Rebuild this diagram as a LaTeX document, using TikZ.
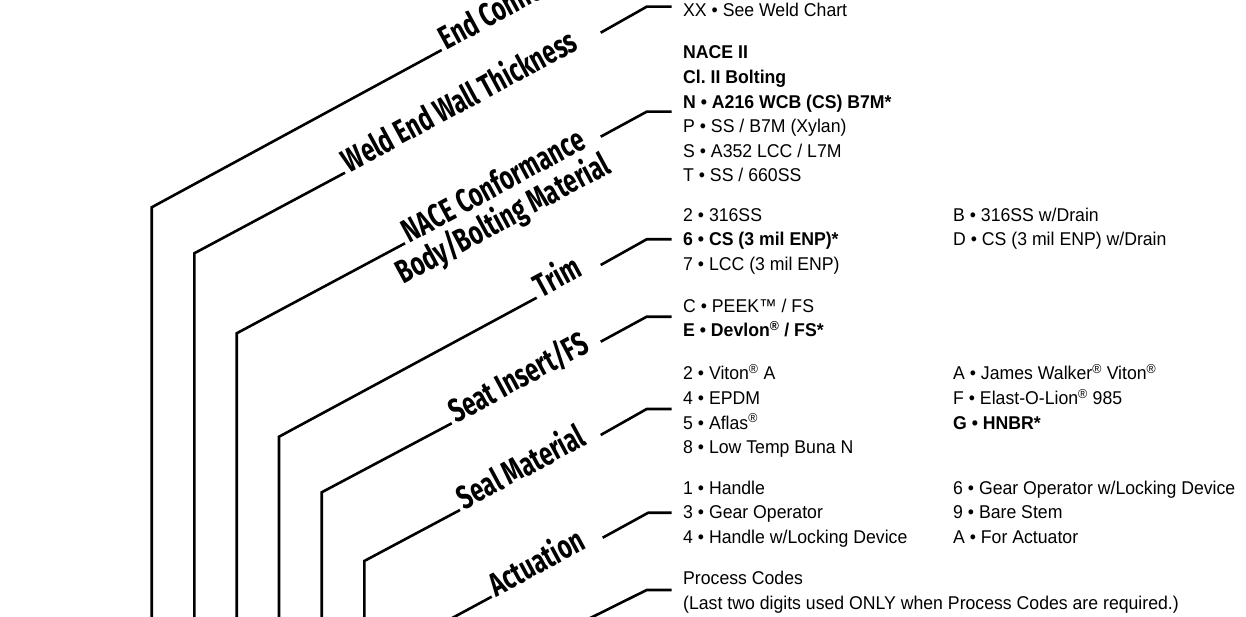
\documentclass[tikz,border=0pt]{standalone}
\usepackage{fontspec}
\setmainfont[FakeStretch=0.955]{Liberation Sans}
\newfontfamily\labfont[FakeStretch=0.71]{Fira Sans}
\frenchspacing
\begin{document}
\begin{tikzpicture}[x=1pt,y=-1pt,
  conn/.style={line width=2.6pt, line join=miter, line cap=butt},
  lab/.style={font=\labfont\bfseries\fontsize{33}{33}\selectfont, rotate=28.4, anchor=mid west, inner xsep=4pt, inner ysep=0pt},
  opt/.style={font=\fontsize{18.5}{24.6}\selectfont, anchor=west, inner sep=0pt, align=left}]
\useasboundingbox (0,0) rectangle (1246,617);
\clip (0,0) rectangle (1246,617);

% option blocks
\node[opt] (o1) at (683,10) {XX • See Weld Chart};
\node[opt] (o2) at (683,114) {\textbf{NACE II}\\ \textbf{Cl. II Bolting}\\ \textbf{N • A216 WCB (CS) B7M*}\\ P • SS / B7M (Xylan)\\ S • A352 LCC / L7M\\ T • SS / 660SS};
\node[opt] (o3) at (683,241) {\makebox[270pt][l]{2 • 316SS}B • 316SS w/Drain\\ \makebox[270pt][l]{\textbf{6 • CS (3 mil ENP)*}}D • CS (3 mil ENP) w/Drain\\ 7 • LCC (3 mil ENP)};
\node[opt] (o4) at (683,318) {C • PEEK™ / FS\\ \textbf{E • Devlon\textsuperscript{®} / FS*}};
\node[opt] (o5) at (683,411) {\makebox[270pt][l]{2 • Viton\textsuperscript{®} A}A • James Walker\textsuperscript{®} Viton\textsuperscript{®}\\ \makebox[270pt][l]{4 • EPDM}F • Elast-O-Lion\textsuperscript{®} 985\\ \makebox[270pt][l]{5 • Aflas\textsuperscript{®}}\textbf{G • HNBR*}\\ 8 • Low Temp Buna N};
\node[opt] (o6) at (683,514) {\makebox[270pt][l]{1 • Handle}6 • Gear Operator w/Locking Device\\ \makebox[270pt][l]{3 • Gear Operator}9 • Bare Stem\\ \makebox[270pt][l]{4 • Handle w/Locking Device}A • For Actuator};
\node[opt] (o7) at (683,592) {Process Codes\\ (Last two digits used ONLY when Process Codes are required.)};

% rotated labels
\node[lab] (l1) at (441.7,50) {End Connection};
\node[lab] (l2) at (345,172.7) {Weld End Wall Thickness};
\node[lab] (l3) at (405,243.3) {NACE Conformance};
\node[lab] (l3b) at (398.5,284.5) {Body/Bolting Material};
\node[lab] (l4) at (536.7,297.7) {Trim};
\node[lab] (l5) at (451.7,423.3) {Seat Insert/FS};
\node[lab] (l6) at (460,510) {Seal Material};
\node[lab] (l7) at (491.7,596.7) {Actuation};

% free ends
\coordinate (b1) at (151.7,700);
\coordinate (b2) at (194.3,700);
\coordinate (b3) at (236.7,700);
\coordinate (b4) at (279,700);
\coordinate (b5) at (321.7,700);
\coordinate (b6) at (364.3,700);
\coordinate (b7) at (406.8,700);
\coordinate (b8) at (540,643);

% left connectors
\draw[conn] (b1) -- (151.7,207.3) -- (l1.mid west);
\draw[conn] (b2) -- (194.3,253.3) -- (l2.mid west);
\draw[conn] (b3) -- (236.7,333.3) -- (l3.mid west);
\draw[conn] (b4) -- (279,436.7) -- (l4.mid west);
\draw[conn] (b5) -- (321.7,492.3) -- (l5.mid west);
\draw[conn] (b6) -- (364.3,561) -- (l6.mid west);
\draw[conn] (b7) -- (406.8,642.5) -- (l7.mid west);

% right connectors
\coordinate (r2) at (600.7,32.7);
\coordinate (r3) at (600.7,136.7);
\coordinate (r4) at (600.7,265);
\coordinate (r5) at (600.7,341.7);
\coordinate (r6) at (600.7,435);
\coordinate (r7) at (602.7,537.7);
\draw[conn] (r2) -- (646.7,6.7) -- ([xshift=-11.3pt]o1.west |- 0,6.7);
\draw[conn] (r3) -- (646.7,111.7) -- ([xshift=-11.3pt]o2.west |- 0,111.7);
\draw[conn] (r4) -- (646.7,239.3) -- ([xshift=-11.3pt]o3.west |- 0,239.3);
\draw[conn] (r5) -- (646.7,316.7) -- ([xshift=-11.3pt]o4.west |- 0,316.7);
\draw[conn] (r6) -- (646.7,409) -- ([xshift=-11.3pt]o5.west |- 0,409);
\draw[conn] (r7) -- (648.3,512.7) -- ([xshift=-11.3pt]o6.west |- 0,512.7);
\draw[conn] (b8) -- (646.7,590) -- ([xshift=-11.3pt]o7.west |- 0,590);
\end{tikzpicture}
\end{document}
